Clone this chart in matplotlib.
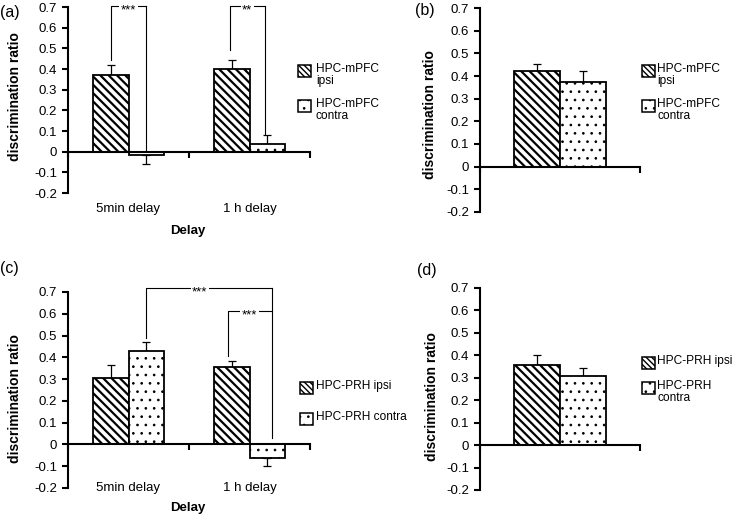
import numpy as np
import matplotlib
matplotlib.use('Agg')
import matplotlib.pyplot as plt
import matplotlib.transforms as mtransforms
from matplotlib.patches import Rectangle

plt.rcParams['font.family'] = ['Liberation Sans', 'DejaVu Sans']
plt.rcParams['hatch.linewidth'] = 1.6

# data
delays = ['5min delay', '1 h delay']

a_ipsi = [0.37, 0.40]
a_ipsi_err = [0.05, 0.045]
a_contra = [-0.015, 0.035]
a_contra_err = [0.045, 0.045]

b_ipsi = [0.42]
b_ipsi_err = [0.035]
b_contra = [0.375]
b_contra_err = [0.045]

c_ipsi = [0.305, 0.355]
c_ipsi_err = [0.06, 0.03]
c_contra = [0.43, -0.06]
c_contra_err = [0.04, 0.04]

d_ipsi = [0.355]
d_ipsi_err = [0.045]
d_contra = [0.31]
d_contra_err = [0.035]

yticks = [-0.2, -0.1, 0, 0.1, 0.2, 0.3, 0.4, 0.5, 0.6, 0.7]
ytick_labels = ['-0.2', '-0.1', '0', '0.1', '0.2', '0.3', '0.4', '0.5', '0.6', '0.7']

mpfc_a = ['HPC-mPFC\nipsi', 'HPC-mPFC\ncontra']
mpfc_b = ['HPC-mPFC\nipsi', 'HPC-mPFC\ncontra']
prh_c = ['HPC-PRH ipsi', 'HPC-PRH contra']
prh_d = ['HPC-PRH ipsi', 'HPC-PRH\ncontra']

STRIPES = '\\' * 4
DOTS = '..'

W, H = 733, 517
fig = plt.figure(figsize=(W / 100, H / 100), dpi=100)


def fy(y):
    return 1 - y / H


def add_ax(l, r, t, b):
    return fig.add_axes([l / W, 1 - b / H, (r - l) / W, (b - t) / H])


def hatch_lw(p, lw):
    if hasattr(p, 'set_hatch_linewidth'):
        p.set_hatch_linewidth(lw)


def panel(ax, ipsi, ipsi_err, contra, contra_err):
    n = len(ipsi)
    x = np.arange(n) + 0.5
    w = 0.29
    for vals, errs, off, hatch, hlw in [(ipsi, ipsi_err, -w / 2, STRIPES, 1.6),
                                        (contra, contra_err, w / 2, DOTS, 0.7)]:
        vals = np.array(vals)
        errs = np.array(errs)
        bars = ax.bar(x + off, vals, w, color='white', edgecolor='black',
                      linewidth=1.3, hatch=hatch, zorder=2)
        for p in bars:
            hatch_lw(p, hlw)
        lo = np.where(vals < 0, errs, 0)
        hi = np.where(vals >= 0, errs, 0)
        ax.errorbar(x + off, vals, yerr=[lo, hi], fmt='none', ecolor='black',
                    elinewidth=0.9, capsize=3, capthick=0.9, zorder=1)

    ax.set_xlim(0, n)
    ax.set_ylim(-0.2, 0.7)
    ax.spines['top'].set_visible(False)
    ax.spines['right'].set_visible(False)
    ax.spines['bottom'].set_position(('data', 0))
    ax.spines['left'].set_linewidth(1.5)
    ax.spines['bottom'].set_linewidth(1.5)
    ax.set_xticks(np.arange(n + 1))
    ax.set_xticklabels([])
    ax.set_yticks(yticks)
    ax.set_yticklabels(ytick_labels)
    ax.tick_params(axis='y', direction='out', length=4, width=1.5,
                   labelsize=9.5, pad=4)
    ax.tick_params(axis='x', direction='out', length=4, width=1.5)


def bracket(ax, xl, xr, top, yl, yr, txt, xt):
    ax.plot([xl, xl, xr], [yl, top, top], color='black', lw=0.8,
            clip_on=False, zorder=4)
    if yr is not None:
        ax.plot([xr, xr], [top, yr], color='black', lw=0.8,
                clip_on=False, zorder=4)
    ax.annotate(txt, (xt, top), xytext=(0, -5.5), textcoords='offset points',
                ha='center', va='baseline', fontsize=9.5,
                bbox=dict(facecolor='white', edgecolor='none', pad=1.0),
                zorder=5, annotation_clip=False)


def legend(x, tops, labels, text_x):
    for top, lab, hatch, hlw in zip(tops, labels, ['\\' * 6, '..'], [1.0, 0.7]):
        r = Rectangle((x / W, fy(top + 12)), 13 / W, 12 / H,
                      transform=fig.transFigure, facecolor='white',
                      edgecolor='black', linewidth=1.1, hatch=hatch)
        hatch_lw(r, hlw)
        fig.patches.append(r)
        fig.text(text_x / W, fy(top - 2), lab, fontsize=8.6, ha='left',
                 va='top', linespacing=0.95)


def cat_labels(ax, labels, y):
    tr = mtransforms.blended_transform_factory(ax.transData, fig.transFigure)
    for i, lab in enumerate(labels):
        ax.text(i + 0.5, fy(y), lab, transform=tr, ha='center', va='center',
                fontsize=9.5)


# (a)
ax_a = add_ax(68, 310, 7, 193)
panel(ax_a, a_ipsi, a_ipsi_err, a_contra, a_contra_err)
bracket(ax_a, 0.353, 0.645, 0.705, 0.445, 0.005, '***', 0.5)
bracket(ax_a, 1.34, 1.625, 0.705, 0.49, 0.085, '**', 1.48)
cat_labels(ax_a, delays, 209)
fig.text(188 / W, fy(231), 'Delay', fontsize=9.5, fontweight='bold',
         ha='center', va='center')
fig.text(15 / W, fy(97), 'discrimination ratio', fontsize=10,
         fontweight='bold', rotation=90, ha='center', va='center')
legend(298, [65, 100], mpfc_a, 316)
fig.text(0, fy(12), '(a)', fontsize=11.5, ha='left', va='center')

# (b)
ax_b = add_ax(480, 640, 8, 212)
panel(ax_b, b_ipsi, b_ipsi_err, b_contra, b_contra_err)
fig.text(430 / W, fy(115), 'discrimination ratio', fontsize=10,
         fontweight='bold', rotation=90, ha='center', va='center')
legend(642, [65, 100], mpfc_b, 657)
fig.text(415 / W, fy(11), '(b)', fontsize=11.5, ha='left', va='center')

# (c)
ax_c = add_ax(68, 310, 292, 488)
panel(ax_c, c_ipsi, c_ipsi_err, c_contra, c_contra_err)
bracket(ax_c, 0.645, 1.685, 0.72, 0.49, 0.03, '***', 1.09)
bracket(ax_c, 1.325, 1.685, 0.615, 0.405, None, '***', 1.5)
cat_labels(ax_c, delays, 488)
fig.text(188 / W, fy(508), 'Delay', fontsize=9.5, fontweight='bold',
         ha='center', va='center')
fig.text(15 / W, fy(399), 'discrimination ratio', fontsize=10,
         fontweight='bold', rotation=90, ha='center', va='center')
legend(300, [382, 413], prh_c, 316)
fig.text(0, fy(268), '(c)', fontsize=11.5, ha='left', va='center')

# (d)
ax_d = add_ax(480, 640, 288, 490)
panel(ax_d, d_ipsi, d_ipsi_err, d_contra, d_contra_err)
fig.text(432 / W, fy(397), 'discrimination ratio', fontsize=10,
         fontweight='bold', rotation=90, ha='center', va='center')
legend(642, [357, 382], prh_d, 657)
fig.text(417 / W, fy(271), '(d)', fontsize=11.5, ha='left', va='center')

fig.savefig('out.png', dpi=100)
